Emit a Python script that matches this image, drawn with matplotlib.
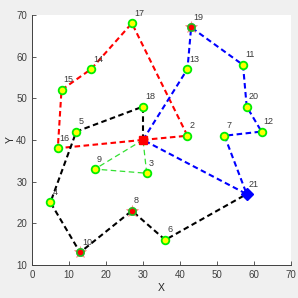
import numpy as np
import matplotlib
matplotlib.use('Agg')
import matplotlib.pyplot as plt

plt.rcParams['font.family'] = ['Liberation Sans', 'DejaVu Sans']
plt.rcParams['lines.scale_dashes'] = False

# node coordinates, node 1 is the depot
node_ids = list(range(1, 22))
node_x = [30, 42, 31, 5, 12, 36, 52, 27, 17, 13, 57, 62, 42, 16, 8, 7, 27, 30, 43, 58, 58]
node_y = [40, 41, 32, 25, 42, 16, 41, 23, 33, 13, 58, 42, 57, 57, 52, 38, 68, 48, 67, 48, 27]

# routes (node numbers)
route_red = [1, 16, 15, 14, 17, 2, 1]
route_black = [1, 18, 5, 4, 10, 8, 6, 21]
route_blue = [1, 13, 19, 11, 20, 12, 7, 21, 1]
route_green = [1, 9, 3, 1]

special_nodes = [8, 10, 19]
depot = 1
station = 21

x_ticks = [0, 10, 20, 30, 40, 50, 60, 70]
y_ticks = [10, 20, 30, 40, 50, 60, 70]

fig = plt.figure(figsize=(2.98, 2.98), dpi=100, facecolor='#f0f0f0')
ax = fig.add_axes([0.107, 0.111, 0.870, 0.839])
ax.set_facecolor('white')

def pts(route):
    return [node_x[n - 1] for n in route], [node_y[n - 1] for n in route]

for route, col, lw in [(route_red, 'red', 1.5), (route_black, 'black', 1.5),
                       (route_blue, 'blue', 1.5), (route_green, '#33e033', 0.9)]:
    rx, ry = pts(route)
    ax.plot(rx, ry, color=col, lw=lw, linestyle=(0, (4, 2.5)), zorder=2)

# customers
plain = [n for n in node_ids if n not in special_nodes and n not in (depot, station)]
px, py = pts(plain)
ax.plot(px, py, 'o', ms=5.5, mfc='yellow', mec='#00ee00', mew=1.3, ls='none', zorder=3)

sx, sy = pts(special_nodes)
ax.plot(sx, sy, '*', ms=9, mfc='#ff8888', mec='#ff8888', mew=0.5, ls='none', zorder=3)
ax.plot(sx, sy, 'o', ms=6, mfc='#22bb22', mec='#22bb22', mew=0.5, ls='none', zorder=4)
ax.plot(sx, sy, 'o', ms=3, mfc='red', mec='red', ls='none', zorder=5)

ax.plot(node_x[depot - 1], node_y[depot - 1], 's', ms=6, color='red', zorder=4)
ax.plot(node_x[station - 1], node_y[station - 1], 'D', ms=6.5, color='blue', zorder=4)

for n in node_ids:
    if n == depot:
        continue
    ax.annotate(str(n), (node_x[n - 1], node_y[n - 1]), xytext=(2, 10),
                textcoords='offset pixels', ha='left', va='center',
                fontsize=6.5, color='#3a3a3a', zorder=6)

ax.set_xlim(0, 70)
ax.set_ylim(10, 70)
ax.set_xticks(x_ticks)
ax.set_yticks(y_ticks)
ax.tick_params(direction='in', length=3, width=0.6, labelsize=7, colors='#404040')
for side in ['top', 'right']:
    ax.spines[side].set_visible(False)
for side in ['left', 'bottom']:
    ax.spines[side].set_color('#404040')
    ax.spines[side].set_linewidth(0.7)
ax.set_xlabel('X', fontsize=7.5, color='#262626')
ax.set_ylabel('Y', fontsize=7.5, color='#262626')
ax.xaxis.set_label_coords(0.5, -0.072)
ax.yaxis.set_label_coords(-0.062, 0.5)

fig.savefig('out.png', dpi=100, facecolor=fig.get_facecolor())
